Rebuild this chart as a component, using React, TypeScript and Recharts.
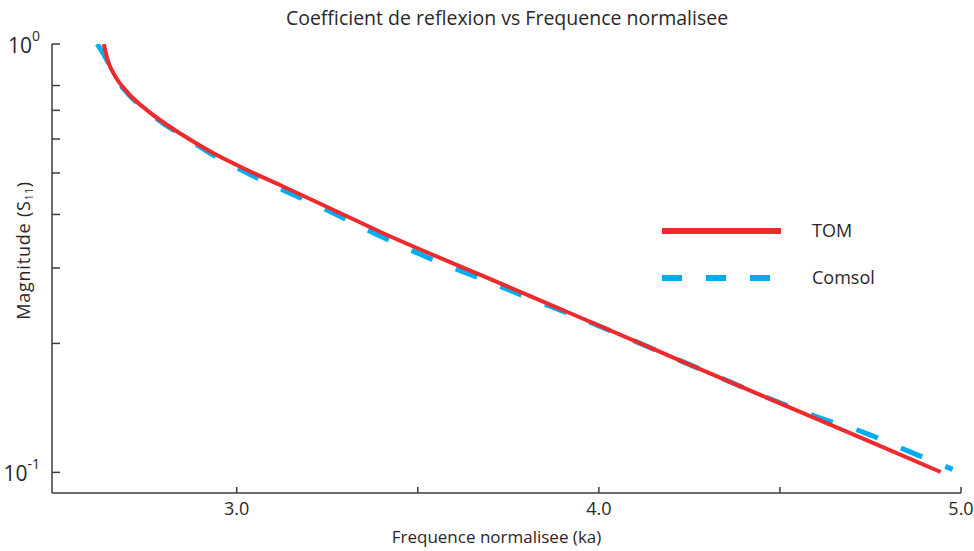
import React from 'react';
import { LineChart, Line, XAxis, YAxis } from 'recharts';

const tomFreq = [2.633, 2.645, 2.66, 2.7, 2.752, 2.8, 2.844, 2.936, 3.029, 3.121, 3.259, 3.397, 3.673, 3.95, 4.281, 4.502, 4.723, 4.944];
const tomMag = [1.0, 0.91, 0.854, 0.768, 0.701, 0.654, 0.618, 0.556, 0.508, 0.468, 0.413, 0.364, 0.289, 0.2296, 0.174, 0.1447, 0.1205, 0.1002];

const comsolFreq = [2.615, 2.645, 2.66, 2.7, 2.752, 2.8, 2.85, 2.936, 3.029, 3.259, 3.397, 3.535, 3.673, 3.811, 3.95, 4.281, 4.502, 4.6, 4.731, 4.861, 4.977];
const comsolMag = [1.0, 0.905, 0.85, 0.765, 0.698, 0.65, 0.612, 0.55, 0.5, 0.406, 0.356, 0.3155, 0.2834, 0.2545, 0.2287, 0.174, 0.1452, 0.135, 0.124, 0.1115, 0.1016];

const xTicks = [3.0, 3.5, 4.0, 4.5, 5.0];
const xLabelled = [3.0, 4.0, 5.0];
const yTicks = [0.1, 0.2, 0.3, 0.4, 0.5, 0.6, 0.7, 0.8, 0.9, 1.0];
const yLabels: Record<string, string> = { '1': '0', '0.1': '-1' };

const tomData = tomFreq.map((f, i) => ({ f, v: tomMag[i] }));
const comsolData = comsolFreq.map((f, i) => ({ f, v: comsolMag[i] }));

const RED = '#ee2a2e';
const BLUE = '#00aeef';
const INK = '#2b2728';
const AXIS = '#3c3c3c';
const FONT = '"Open Sans", sans-serif';

const XTick = (props: any) => {
  const { x, y, payload } = props;
  const v = payload.value;
  return (
    <g>
      <line x1={x} x2={x} y1={y} y2={y - 6} stroke={AXIS} strokeWidth={1.5} />
      {xLabelled.includes(v) && (
        <text x={x} y={y + 22} textAnchor="middle" fill={INK} fontSize={18} fontFamily={FONT}>
          {v.toFixed(1)}
        </text>
      )}
    </g>
  );
};

const YTick = (props: any) => {
  const { x, y, payload } = props;
  const exp = yLabels[String(payload.value)];
  return (
    <g>
      <line x1={x} x2={x + 8} y1={y} y2={y} stroke={AXIS} strokeWidth={1.5} />
      {exp !== undefined && (
        <text x={x - 12} y={y + 9} textAnchor="end" fill={INK} fontSize={21} fontFamily={FONT}>
          10<tspan dy={-12} fontSize={14}>{exp}</tspan>
        </text>
      )}
    </g>
  );
};

const YLabel = (props: any) => {
  const { viewBox } = props;
  const cy = viewBox.y + viewBox.height / 2 - 18;
  return (
    <text x={0} y={0} transform={`translate(30, ${cy}) rotate(-90)`} textAnchor="middle" fill={INK} fontSize={18} letterSpacing={0.8} fontFamily={FONT}>
      Magnitude (S<tspan fontSize={10} dy={3}>11</tspan><tspan dy={-3}>)</tspan>
    </text>
  );
};

const LegendBox = () => (
  <svg width={260} height={80} style={{ position: 'absolute', left: 660, top: 215 }}>
    <line x1={2} x2={121} y1={16} y2={16} stroke={RED} strokeWidth={6} />
    <text x={152} y={22} fill={INK} fontSize={18} fontFamily={FONT}>TOM</text>
    <line x1={2} x2={122} y1={63} y2={63} stroke={BLUE} strokeWidth={6} strokeDasharray="20 24" />
    <text x={152} y={69} fill={INK} fontSize={18} fontFamily={FONT}>Comsol</text>
  </svg>
);

export default function App() {
  return (
    <div style={{ position: 'absolute', left: 0, top: 0, width: 974, height: 551, background: '#fff' }}>
      <div style={{ position: 'absolute', left: 0, top: 4, width: 1014, textAlign: 'center', fontFamily: FONT, fontSize: 19.5, color: INK }}>
        Coefficient de reflexion vs Frequence normalisee
      </div>
      <LineChart width={974} height={551} margin={{ top: 44, right: 13, bottom: 0, left: 0 }}>
        <XAxis
          xAxisId="b"
          dataKey="f"
          type="number"
          domain={[2.49, 5.0]}
          ticks={xTicks}
          allowDataOverflow
          height={58}
          tickSize={0}
          tickMargin={0}
          tickLine={false}
          tick={<XTick />}
          stroke={AXIS}
          strokeWidth={1.5}
          label={{ value: 'Frequence normalisee (ka)', position: 'insideBottom', offset: 8, dx: -10, fill: INK, fontSize: 17, fontFamily: FONT }}
        />
        <XAxis xAxisId="t" orientation="top" type="number" domain={[0, 1]} height={0} tick={false} tickLine={false} stroke={AXIS} strokeWidth={1.5} />
        <YAxis
          yAxisId="l"
          type="number"
          scale="log"
          domain={[0.0895, 1]}
          ticks={yTicks}
          allowDataOverflow
          width={52}
          tickSize={0}
          tickMargin={0}
          tickLine={false}
          tick={<YTick />}
          stroke={AXIS}
          strokeWidth={1.5}
          label={<YLabel />}
        />
        <YAxis yAxisId="r" orientation="right" type="number" domain={[0, 1]} width={0} tick={false} tickLine={false} stroke={AXIS} strokeWidth={1.5} />
        <Line
          xAxisId="b"
          yAxisId="l"
          data={comsolData}
          dataKey="v"
          name="Comsol"
          type="monotone"
          stroke={BLUE}
          strokeWidth={5}
          strokeDasharray="23 25"
          dot={false}
          isAnimationActive={false}
        />
        <Line
          xAxisId="b"
          yAxisId="l"
          data={tomData}
          dataKey="v"
          name="TOM"
          type="monotone"
          stroke={RED}
          strokeWidth={4}
          dot={false}
          isAnimationActive={false}
        />
      </LineChart>
      <LegendBox />
    </div>
  );
}
